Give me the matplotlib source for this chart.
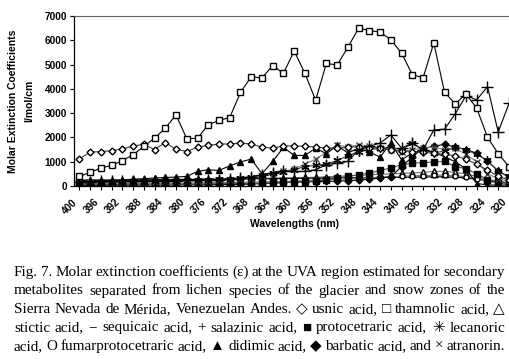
import matplotlib
matplotlib.use("Agg")
import matplotlib.pyplot as plt
import matplotlib.transforms as mtransforms
import numpy as np

wavelengths = list(range(400, 318, -2))  # 41 categories
tick_labels = [str(w) for w in range(400, 318, -4)]

usnic = [1120,1390,1420,1450,1530,1640,1720,1500,1790,1510,
         1420,1600,1670,1730,1730,1770,1730,1600,1560,1650,
         1650,1640,1600,1560,1560,1600,1620,1580,1560,1500,
         1450,1420,1380,1350,1300,1250,1100,900,650,400,250]
thamnolic = [395,560,740,850,1040,1290,1630,1970,2380,2930,
             1945,1970,2520,2700,2820,3850,4500,4450,4960,4640,
             5560,4640,3530,5050,4980,5710,6500,6400,6340,6030,
             5470,4590,4450,5890,3860,3380,3790,3200,2010,1330,800]
stictic = [250,260,260,260,260,270,270,270,280,280,
           280,280,290,290,300,300,300,310,320,330,
           340,350,360,380,400,420,440,460,480,500,
           520,540,560,600,600,560,500,400,250,150,100]
sequicaic = [230,230,230,230,240,240,250,250,260,260,
             270,270,280,280,290,290,300,300,300,310,
             310,320,320,330,330,340,340,350,350,360,
             360,370,370,380,380,360,330,280,220,150,100]
salazinic = [180,180,190,190,200,200,210,210,220,220,
             230,240,250,260,280,330,380,450,550,600,
             600,600,670,875,940,1010,1490,1630,1770,2100,
             1560,1770,1490,2310,2340,2970,3720,3550,4090,2220,3400]
protocetraric = [60,60,60,60,60,70,70,70,80,80,
                 80,90,90,100,100,100,110,120,130,150,
                 150,160,200,260,330,400,460,530,640,740,
                 875,945,960,990,1010,800,710,505,260,190,150]
lecanoric = [120,130,140,150,160,170,180,190,200,210,
             220,230,250,280,300,330,380,450,530,560,
             670,800,850,900,1050,1250,1420,1500,1550,1600,
             1500,1750,1500,1350,1450,1600,1500,1300,1050,600,400]
fumarprotocetraric = [100,100,100,100,100,110,110,110,120,120,
                      120,130,130,140,140,150,160,170,180,190,
                      200,220,240,260,280,300,320,340,360,380,
                      400,420,430,440,450,420,380,300,200,120,100]
didimic = [150,180,200,220,250,280,300,330,350,370,
           395,600,670,640,830,990,1110,505,1010,1590,
           1260,1260,1560,1330,1670,1360,1560,1400,1190,1770,
           1080,1360,1500,1400,1200,1000,700,100,50,30,50]
barbatic = [30,30,30,35,35,40,40,40,45,45,
            50,50,55,55,60,70,80,100,120,140,
            160,170,180,190,200,220,250,280,330,380,
            800,1200,1550,1630,1720,1600,1500,1350,1010,630,350]
atranorin = [150,150,160,160,170,170,180,180,190,190,
             200,210,220,230,250,270,300,400,500,600,
             700,900,1100,1400,1700,1600,1700,1650,1550,1500,
             1400,1500,1550,1600,1500,1550,1300,1000,500,300,200]

W, H = 510, 359
fig = plt.figure(figsize=(W/100, H/100), dpi=100)
ax_left, ax_right, ax_top, ax_bottom = 74, 74 + 41*10.74, 16, 186
ax = fig.add_axes([ax_left/W, 1 - ax_bottom/H, (ax_right-ax_left)/W, (ax_bottom-ax_top)/H])

x = np.arange(len(wavelengths))
lw = 0.8
series = [
    (stictic, dict(marker='^', mfc='white', mec='black', ms=4, color='#707070')),
    (sequicaic, dict(marker='_', mec='black', ms=6, color='black')),
    (fumarprotocetraric, dict(marker='o', mfc='white', mec='black', ms=3.5, color='#707070')),
    (barbatic, dict(marker='D', mfc='black', mec='black', ms=3.5, color='black')),
    (protocetraric, dict(marker='s', mfc='black', mec='black', ms=4, color='#505050')),
    (atranorin, dict(marker='x', mec='#404040', ms=5, mew=1.0, color='#808080')),
    (lecanoric, dict(marker=(6, 2, 0), mec='black', ms=6, mew=0.9, color='#404040')),
    (didimic, dict(marker='^', mfc='black', mec='black', ms=4.5, color='black')),
    (usnic, dict(marker='D', mfc='white', mec='black', ms=3.5, color='#404040')),
    (salazinic, dict(marker='+', mec='black', ms=8, mew=1.0, color='black')),
    (thamnolic, dict(marker='s', mfc='white', mec='black', ms=4, color='black')),
]
for vals, st in series:
    ax.plot(x, vals, lw=lw, clip_on=True, **st)

ax.set_xlim(-0.5, 40.5)
ax.set_ylim(0, 7000)
ax.set_yticks(range(0, 7001, 1000))
ax.set_yticklabels([str(v) for v in range(0, 7001, 1000)], fontsize=7.2,
                   fontweight='bold', family='Liberation Sans')
ax.set_xticks(x[::2])
ax.set_xticklabels(tick_labels, rotation=45, ha='right', rotation_mode='anchor',
                   fontsize=7.2, fontweight='bold', family='Liberation Sans')
ax.set_xticks(x, minor=True)
ax.tick_params(axis='x', which='both', direction='out', length=3, width=0.8, pad=2)
ax.tick_params(axis='y', direction='out', length=3, width=0.8, pad=2)
offset = mtransforms.ScaledTranslation(-7/100, -4/100, fig.dpi_scale_trans)
for lbl in ax.get_xticklabels():
    lbl.set_transform(lbl.get_transform() + offset)
ax.spines['right'].set_visible(False)
ax.spines['top'].set_color('#606060')
ax.spines['left'].set_linewidth(0.9)
ax.spines['bottom'].set_linewidth(0.9)
ax.patch.set_alpha(0)

fig.text(13/W, 1 - 101/H, 'Molar Extinction Coefficients', rotation=90, ha='center', va='center',
         fontsize=7.5, fontweight='bold', family='Liberation Sans')
fig.text(29/W, 1 - 101/H, 'l/mol/cm', rotation=90, ha='center', va='center',
         fontsize=7.5, fontweight='bold', family='Liberation Sans')
fig.text(295/W, 1 - 224/H, 'Wavelengths (nm)', ha='center', va='center',
         fontsize=7.5, fontweight='bold', family='Liberation Sans')

# Caption, justified
caption_lines = [
    "Fig. 7. Molar extinction coefficients (\u03b5) at the UVA region estimated for secondary",
    "metabolites separated from lichen species of the glacier and snow zones of the",
    "Sierra Nevada de M\u00e9rida, Venezuelan Andes. \u25c7 usnic acid, \u25a1 thamnolic acid, \u25b3",
    "stictic acid, \u2212 sequicaic acid, + salazinic acid, \u25a0 protocetraric acid, \u2733 lecanoric",
    "acid, O fumarprotocetraric acid, \u25b2 didimic acid, \u25c6 barbatic acid, and \u00d7 atranorin.",
]
cap_fam = ['Liberation Serif', 'DejaVu Sans']
x0, x1 = 14, 505
baselines = [276, 294.5, 313, 331.5, 350]
fig.canvas.draw()
renderer = fig.canvas.get_renderer()

# choose caption size so the first line (slightly tight spacing) spans the text width
probe = fig.text(0, 0, caption_lines[0], fontsize=10, family=cap_fam)
pw = probe.get_window_extent(renderer).width
probe.remove()
cap_size = 10 * (x1 - x0 - 3) / pw * 1.025

for li, line in enumerate(caption_lines):
    words = line.split(' ')
    texts = []
    widths = []
    for w in words:
        t = fig.text(0, 0, w, fontsize=cap_size, family=cap_fam, ha='left', va='baseline')
        bb = t.get_window_extent(renderer)
        texts.append(t)
        widths.append(bb.width)
    total = sum(widths)
    sp = fig.text(0, 0, 'a a', fontsize=cap_size, family=cap_fam)
    spw = sp.get_window_extent(renderer).width
    sp2 = fig.text(0, 0, 'aa', fontsize=cap_size, family=cap_fam)
    spw -= sp2.get_window_extent(renderer).width
    sp.remove(); sp2.remove()
    gap = (x1 - x0 - total) / (len(words) - 1)
    if li == len(caption_lines) - 1:
        gap = min(gap, spw * 1.2)
    xp = x0
    for t, wdt in zip(texts, widths):
        t.set_position((xp / W, 1 - baselines[li] / H))
        xp += wdt + gap

fig.savefig('out.png', dpi=100)
